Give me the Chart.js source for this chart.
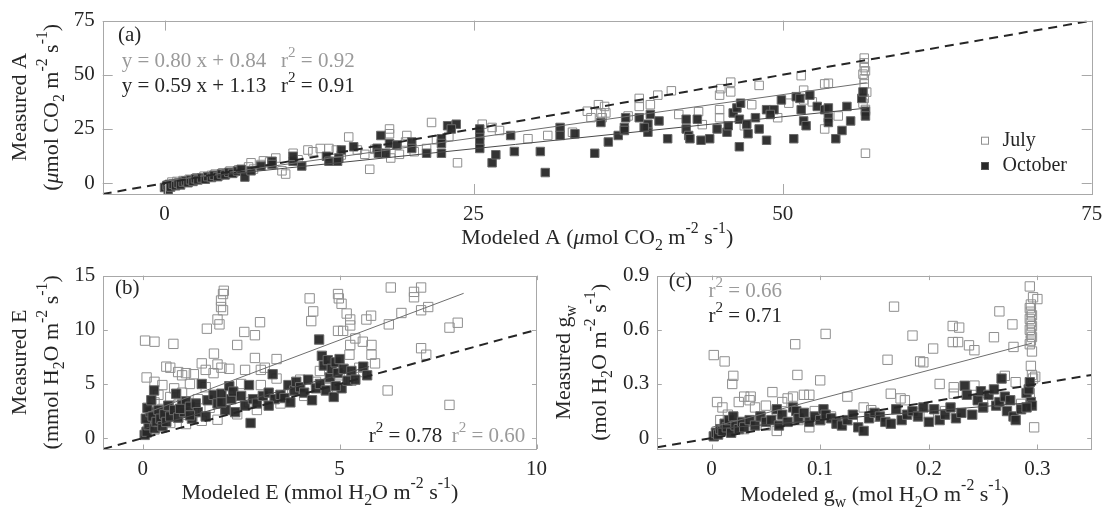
<!DOCTYPE html>
<html>
<head>
<meta charset="utf-8">
<script src="https://cdn.jsdelivr.net/npm/chart.js@4.4.1/dist/chart.umd.min.js"></script>
<style>
    body { margin: 0; background: #fff; width: 1111px; height: 521px; overflow: hidden; position: relative; }
    canvas { position: absolute; }
</style>
</head>
<body>
<canvas id="chartA" width="1111" height="255" style="left:0;top:0"></canvas>
<canvas id="chartB" width="555" height="266" style="left:0;top:255px"></canvas>
<canvas id="chartC" width="556" height="266" style="left:555px;top:255px"></canvas>
<script>
// ---- data ----
const seriesNames = ['July', 'October'];

// (a) net assimilation, modeled vs measured
const julyA = [[0.2,-1.5],[0.4,-0.5],[0.6,0.5],[0.8,-1],[1,0.8],[1.2,0.2],[1.5,1.2],[1.8,0.5],[2,1.8],[2.3,1.2],[2.6,2.5],[3,2],[3.2,3.2],[3.5,2.8],[3.8,3.6],[4.1,4.2],[4.4,3.5],[4.7,4.8],[5,4.4],[5.3,5.6],[5.6,4.9],[6,6.2],[6.3,5.5],[6.8,7.5],[7,9.4],[7.2,6.5],[7.8,8.6],[8,10.3],[8.5,9.8],[9,11.6],[9.5,5.7],[9.8,4.2],[10.4,13.8],[10.8,10.8],[11.6,15.3],[12,14.5],[12.6,16],[13.3,16],[13.9,15.3],[14.3,13],[14.9,21.3],[15.6,15.3],[16.2,13.3],[16.6,6.4],[17,15.6],[18.2,25],[18.2,22.8],[18.3,11.6],[19,13.3],[19.5,19],[19.6,22],[20.2,14.5],[21.2,16],[21.6,28],[22,20],[23,21.5],[23.7,9.4],[25.7,27.2],[26.5,25.7],[27.1,24.3],[29.4,20.5],[31,22],[33,23.5],[34.2,33.2],[34.5,30.2],[35.1,36.2],[35.3,32.4],[35.4,30.2],[35.6,35.4],[35.7,32.4],[37.5,31],[38.4,39.1],[38.4,35.4],[39.3,36.2],[39.9,40.6],[41,42.6],[41.6,31.7],[43.5,27],[43.2,33],[44.9,40.6],[44.9,33.9],[44.9,30.2],[45,43.6],[45.8,46.6],[45.8,42.1],[46.9,26.5],[47.5,36.2],[48.1,45.1],[49.6,30.2],[50.5,36.9],[51.5,49.6],[51.7,42.9],[51.7,38.4],[52.4,37.5],[53.4,45.8],[53.7,46.1],[53.4,25],[54.5,31],[56.6,57.7],[56.6,55.5],[56.6,53.3],[56.7,51.8],[56.5,50.3],[56.6,48.1],[56.6,45.8],[56.6,39.1],[56.5,36.9],[56.7,13.8],[56.8,42],[56.7,34]];
const octA = [[0,-2],[0.2,-1],[0.3,-3],[0.5,-1.8],[0.7,-0.5],[0.9,-1.2],[1.1,0],[1.3,-0.8],[1.5,0.5],[1.7,1],[1.9,0.2],[2.1,1.5],[2.3,0.8],[2.5,2],[2.7,1.5],[3,2.4],[3.3,1.8],[3.5,3],[3.8,2.6],[4,3.6],[4.3,3],[4.6,4.2],[4.9,3.8],[5.2,5],[5.5,4.5],[5.9,5.6],[6.2,6.4],[6.5,2.8],[7,5.7],[7.8,7.9],[8.7,10.1],[8.7,8.6],[10.4,10.1],[10.4,12.4],[11.1,7.9],[13.1,12.4],[13.3,10.1],[14.3,15.3],[14.1,11.6],[14,10.1],[15.3,16.8],[17.2,16.1],[17.3,13.8],[17.9,13.8],[17.5,22],[18.2,18.3],[18.8,17.6],[20,19],[20,16],[21.2,13.8],[22.4,20.5],[22.4,18.3],[22.4,13.8],[22.9,26.5],[23.6,27.2],[23.2,25],[25.5,22],[25.5,19],[25.5,16],[25.5,25],[26.5,9.4],[26.8,13.1],[28,22],[28.3,14.6],[30.4,14.6],[30.8,4.9],[32,25.7],[32,22],[33.2,22.8],[34.8,13.8],[35.3,28],[35.9,19],[36.7,22],[37.2,25.7],[37.3,30.2],[37.2,24.3],[38.4,30.2],[39.1,27.2],[39.1,23.5],[39.3,31.7],[38.8,25.7],[40,28.7],[40.7,20.5],[42.2,29.5],[42.2,25],[42.4,22],[42.5,20.5],[43.1,29.5],[43.4,19.8],[44.1,20.5],[44.7,25],[45.5,23.5],[45.6,26.5],[46,32.4],[46.3,34.7],[46.6,36.9],[46.5,29.5],[46.5,16.8],[47.1,27.2],[47.2,22.8],[47.8,30.2],[48.1,25],[48.7,33.9],[48.7,19.8],[49.3,33.9],[49,31.7],[49.9,38.4],[50.9,20.5],[51.1,39.9],[51.4,39.1],[51.5,33.9],[51.7,28.7],[51.9,26.5],[52.2,40.6],[52.8,35.4],[53.4,33.9],[53.7,34.7],[53.7,30.2],[53.7,28],[54.3,20.5],[54.8,24.3],[55.2,35.4],[55.5,28.7],[56.4,39.1],[56.5,42.1],[56.7,33.2],[56.7,31]];
const fitJulyA = [0.80, 0.84];   // slope, intercept
const fitOctA = [0.59, 1.13];
const fitRangeA = [0, 56.8];
const xTicksA = [0, 25, 50, 75];
const yTicksA = [0, 25, 50, 75];

// (b) transpiration
const julyB = [[0.06,9.0],[0.3,8.9],[0.78,8.7],[1.63,10.1],[1.81,7.8],[1.99,12.7],[1.99,12.1],[2.04,11.8],[1.9,10.95],[1.95,10.5],[2.04,13.3],[2.06,13.6],[2.4,8.6],[2.58,9.8],[2.85,9.5],[2.98,10.7],[2.85,7.4],[3.1,6.5],[3.4,7.3],[4.24,12.9],[4.33,11.7],[4.28,10.8],[4.96,13.3],[4.98,12.9],[5.05,12.4],[5.18,11.5],[5.27,10.95],[5.27,10.4],[5.09,9.9],[4.96,9.9],[5.27,8.6],[5.25,7.7],[5.4,9.2],[5.59,8.9],[5.68,10.95],[5.8,11.3],[5.81,8.6],[5.81,7.7],[6.22,4.4],[6.3,13.9],[6.25,10.5],[6.57,11.55],[6.89,13.5],[6.89,13.0],[7.07,11.8],[7.07,13.9],[7.25,12.1],[7.07,8.3],[7.2,7.7],[7.79,3.07],[7.79,10.2],[8.0,10.65],[1.0,5.8],[1.1,6.0],[0.6,6.6],[0.7,6.5],[0.9,6.1],[1.3,5.9],[1.6,6.3],[1.8,6.0],[2.2,6.4],[2.6,6.3],[3.0,6.3],[1.5,6.9],[1.9,6.8],[2.0,6.5],[0.1,5.6],[0.3,5.2],[0.5,4.9],[0.8,4.6],[1.2,5.0],[0.4,4.0],[0.7,3.8],[0.1,0.5],[0.2,1.2],[0.3,0.8],[0.4,1.8],[0.5,1.0],[0.6,2.2],[0.7,1.4],[0.9,1.9],[1.1,1.3],[1.3,2.4],[1.5,1.6],[1.7,2.8],[1.9,1.7],[2.1,2.6],[2.4,2.2],[2.7,3.3],[2.9,2.6],[3.2,3.8],[3.5,3.2],[3.8,4.4],[4.1,3.9],[4.4,5.2],[4.7,4.6],[5,5.8],[5.3,5.3],[5.6,6.1],[5.9,6.9],[4.0,5.4],[3.0,4.9],[2.2,4.2],[1.4,3.6],[0.9,3.1],[0.5,2.7],[0.3,3.3],[1.0,4.2],[1.6,4.7],[2.5,5.0],[3.4,5.5],[4.5,6.2],[5.5,6.5]];
const octB = [[0.05,0.3],[0.1,0.6],[0.15,1.2],[0.08,1.8],[0.2,2.4],[0.12,2.8],[0.25,2.0],[0.3,0.9],[0.35,1.5],[0.22,3.5],[0.29,4.4],[0.4,2.6],[0.45,1.8],[0.5,1.1],[0.55,2.2],[0.6,1.5],[0.65,3.0],[0.7,2.0],[0.8,2.6],[0.85,4.1],[0.9,1.9],[1.0,3.1],[1.05,2.4],[1.1,3.4],[1.2,2.9],[1.25,1.8],[1.35,3.2],[1.4,2.4],[1.5,5.0],[1.6,2.0],[1.65,3.5],[1.8,4.0],[1.9,3.2],[2.0,4.1],[2.1,2.6],[2.2,4.8],[2.25,3.6],[2.3,4.3],[2.35,2.4],[2.5,3.9],[2.6,3.0],[2.7,4.9],[2.74,1.4],[2.8,3.6],[2.9,3.2],[3.05,3.9],[3.2,4.2],[3.3,5.9],[3.35,3.6],[3.5,4.0],[3.6,3.7],[3.7,4.9],[3.75,3.3],[3.85,4.4],[3.9,5.2],[4.0,4.7],[4.1,4.2],[4.2,5.4],[4.3,3.5],[4.4,4.6],[4.48,9.1],[4.5,5.0],[4.55,7.6],[4.6,6.7],[4.65,4.4],[4.7,7.2],[4.75,5.6],[4.8,6.4],[4.85,3.8],[4.9,7.0],[4.95,6.0],[5.0,7.3],[5.05,4.6],[5.1,6.4],[5.2,5.3],[5.3,6.2],[5.4,5.4],[5.6,6.6],[5.7,5.8],[4.9,4.8],[3.2,3.0],[2.0,3.3],[1.2,2.1],[0.95,2.7]];
const fitJulyB = [1.37, 2.2];
const fitOctB = [1.0, 0.85];
const fitRangeJulyB = [0.05, 8.15];
const fitRangeOctB = [0.05, 5.75];
const xTicksB = [0, 5, 10];
const yTicksB = [0, 5, 10, 15];

// (c) stomatal conductance
const julyC = [[0.002,0.46],[0.012,0.425],[0.02,0.345],[0.019,0.3],[0.005,0.2],[0.01,0.17],[0.015,0.13],[0.008,0.1],[0.02,0.08],[0.025,0.2],[0.03,0.23],[0.035,0.21],[0.04,0.17],[0.045,0.12],[0.036,0.23],[0.05,0.18],[0.056,0.255],[0.06,0.15],[0.065,0.2],[0.07,0.22],[0.075,0.23],[0.077,0.52],[0.079,0.35],[0.085,0.24],[0.09,0.24],[0.09,0.06],[0.095,0.15],[0.1,0.32],[0.105,0.577],[0.11,0.12],[0.12,0.08],[0.125,0.23],[0.13,0.1],[0.14,0.17],[0.147,0.155],[0.162,0.434],[0.165,0.246],[0.168,0.728],[0.174,0.22],[0.178,0.21],[0.185,0.568],[0.19,0.14],[0.192,0.425],[0.195,0.42],[0.204,0.496],[0.21,0.3],[0.215,0.15],[0.222,0.621],[0.228,0.612],[0.222,0.532],[0.227,0.532],[0.223,0.282],[0.223,0.246],[0.237,0.514],[0.242,0.487],[0.242,0.291],[0.25,0.2],[0.26,0.559],[0.265,0.702],[0.27,0.345],[0.277,0.63],[0.278,0.505],[0.28,0.31],[0.293,0.84],[0.296,0.78],[0.294,0.74],[0.293,0.72],[0.294,0.7],[0.295,0.68],[0.293,0.66],[0.294,0.64],[0.295,0.62],[0.293,0.6],[0.294,0.58],[0.295,0.56],[0.294,0.54],[0.293,0.52],[0.295,0.48],[0.294,0.4],[0.295,0.35],[0.296,0.33],[0.293,0.25],[0.297,0.06],[0.3,0.77],[0.298,0.34],[0.03,0.05],[0.05,0.07],[0.06,0.04],[0.08,0.1],[0.1,0.1],[0.15,0.12],[0.2,0.13],[0.25,0.17],[0.285,0.19]];
const octC = [[0.002,0.01],[0.004,0.03],[0.006,0.02],[0.008,0.05],[0.01,0.04],[0.012,0.08],[0.014,0.06],[0.016,0.1],[0.018,0.03],[0.02,0.12],[0.022,0.07],[0.025,0.05],[0.028,0.09],[0.03,0.06],[0.035,0.1],[0.04,0.07],[0.045,0.12],[0.05,0.09],[0.055,0.1],[0.06,0.16],[0.062,0.07],[0.065,0.13],[0.07,0.09],[0.075,0.17],[0.078,0.15],[0.08,0.11],[0.085,0.14],[0.09,0.09],[0.095,0.12],[0.1,0.1],[0.103,0.16],[0.105,0.13],[0.11,0.11],[0.115,0.08],[0.12,0.07],[0.125,0.1],[0.13,0.13],[0.135,0.06],[0.14,0.04],[0.145,0.11],[0.15,0.14],[0.155,0.12],[0.16,0.09],[0.165,0.08],[0.17,0.16],[0.175,0.1],[0.18,0.13],[0.185,0.15],[0.19,0.12],[0.195,0.17],[0.2,0.09],[0.205,0.16],[0.21,0.1],[0.215,0.13],[0.22,0.17],[0.225,0.11],[0.23,0.14],[0.233,0.29],[0.235,0.24],[0.24,0.13],[0.245,0.21],[0.248,0.26],[0.25,0.17],[0.255,0.24],[0.26,0.27],[0.262,0.18],[0.265,0.2],[0.267,0.33],[0.27,0.23],[0.272,0.15],[0.275,0.21],[0.278,0.12],[0.28,0.1],[0.285,0.16],[0.29,0.25],[0.292,0.27],[0.293,0.31],[0.294,0.2],[0.295,0.18],[0.29,0.17]];
const fitJulyC = [1.58, 0.06];
const fitOctC = [0.5, 0.05];
const fitRangeC = [0, 0.295];
const xTicksC = [0, 0.1, 0.2, 0.3];
const yTicksC = [0, 0.3, 0.6, 0.9];

// ---- styling ----
const FONT = '"Liberation Serif", "Times New Roman", serif';
const TEXT = '#262626';
const GRAY_TEXT = '#9a9a9a';
const FRAME = '#a8a8a8';

// text runs: [text, mode] with mode '', 'sub', 'sup', 'it'
function drawRich(ctx, runs, x, y, size, color, align, rotate) {
    const fontFor = r => {
        const small = r[1] === 'sub' || r[1] === 'sup';
        return (r[1] === 'it' ? 'italic ' : '') + (small ? size * 0.72 : size) + 'px ' + FONT;
    };
    ctx.save();
    ctx.translate(x, y);
    if (rotate) ctx.rotate(-Math.PI / 2);
    let w = 0;
    runs.forEach(r => { ctx.font = fontFor(r); w += ctx.measureText(r[0]).width; });
    let cx = align === 'left' ? 0 : -w / 2;
    ctx.fillStyle = color;
    ctx.textBaseline = 'middle';
    ctx.textAlign = 'left';
    runs.forEach(r => {
        ctx.font = fontFor(r);
        const dy = r[1] === 'sub' ? size * 0.36 : (r[1] === 'sup' ? -size * 0.4 : 0);
        ctx.fillText(r[0], cx, dy);
        cx += ctx.measureText(r[0]).width;
    });
    ctx.restore();
}

const unitsCO2 = [['('], ['μ', 'it'], ['mol CO'], ['2', 'sub'], [' m'], ['-2', 'sup'], [' s'], ['-1', 'sup'], [')']];
const unitsH2Ommol = [['(mmol H'], ['2', 'sub'], ['O m'], ['-2', 'sup'], [' s'], ['-1', 'sup'], [')']];
const unitsH2Omol = [['(mol H'], ['2', 'sub'], ['O m'], ['-2', 'sup'], [' s'], ['-1', 'sup'], [')']];

function r2(v) { return [['r'], ['2', 'sup'], [' = ' + v]]; }

function fitLine(coef, range) {
    return range.map(x => ({ x: x, y: coef[0] * x + coef[1] }));
}

function toPts(arr) { return arr.map(p => ({ x: p[0], y: p[1] })); }

function makePanel(id, p) {
    const datasets = [
        {
            type: 'line', data: [{ x: p.x[0], y: p.x[0] }, { x: p.x[1], y: p.x[1] }],
            borderColor: '#262626', borderWidth: 2, borderDash: [9, 6], pointRadius: 0, order: 0
        },
        { type: 'line', data: fitLine(p.fitJuly, p.rangeJuly), borderColor: '#6e6e6e', borderWidth: 1, pointRadius: 0, order: 0 },
        { type: 'line', data: fitLine(p.fitOct, p.rangeOct), borderColor: '#4a4a4a', borderWidth: 1, pointRadius: 0, order: 0 },
        {
            label: seriesNames[1], data: toPts(p.oct), pointStyle: 'rect', pointRadius: p.r,
            backgroundColor: 'rgba(40,40,40,0.95)', borderColor: '#6a6a6a', borderWidth: 1, order: 1
        },
        {
            label: seriesNames[0], data: toPts(p.july), pointStyle: 'rect', pointRadius: p.r,
            backgroundColor: 'rgba(255,255,255,0)', borderColor: '#8f8f8f', borderWidth: 1, order: 2
        }
    ];

    const decor = {
        id: 'decor',
        afterDraw(chart) {
            const ctx = chart.ctx;
            const a = chart.chartArea;
            const sx = chart.scales.x, sy = chart.scales.y;
            ctx.save();
            ctx.strokeStyle = FRAME;
            ctx.lineWidth = 1;
            ctx.strokeRect(Math.round(a.left) + 0.5, Math.round(a.top) + 0.5, Math.round(a.right - a.left), Math.round(a.bottom - a.top));
            ctx.beginPath();
            p.xTicks.forEach(v => {
                const px = Math.round(sx.getPixelForValue(v)) + 0.5;
                ctx.moveTo(px, a.bottom); ctx.lineTo(px, a.bottom - p.tick);
                ctx.moveTo(px, a.top); ctx.lineTo(px, a.top + p.tick);
            });
            p.yTicks.forEach(v => {
                const py = Math.round(sy.getPixelForValue(v)) + 0.5;
                ctx.moveTo(a.left, py); ctx.lineTo(a.left + p.tick, py);
                ctx.moveTo(a.right, py); ctx.lineTo(a.right - p.tick, py);
            });
            ctx.stroke();
            ctx.restore();

            const cxTitle = (a.left + a.right) / 2;
            const cyTitle = (a.top + a.bottom) / 2;
            drawRich(ctx, p.xTitle, cxTitle, p.xTitleY, 22, TEXT, 'center', false);
            drawRich(ctx, p.yTitle1, p.yTitleX[0], cyTitle, 22, TEXT, 'center', true);
            drawRich(ctx, p.yTitle2, p.yTitleX[1], cyTitle, 22, TEXT, 'center', true);
            p.notes.forEach(n => drawRich(ctx, n.runs, n.x, n.y, 21, n.color, 'left', false));

            if (p.legend) {
                const L = p.legend;
                [datasets[4], datasets[3]].forEach((d, i) => {
                    const y = L.y + i * L.dy;
                    ctx.save();
                    ctx.fillStyle = i === 0 ? '#ffffff' : '#2a2a2a';
                    ctx.strokeStyle = i === 0 ? '#8f8f8f' : '#555';
                    ctx.fillRect(L.x - 3.5, y - 3.5, 7, 7);
                    ctx.strokeRect(L.x - 3.5, y - 3.5, 7, 7);
                    ctx.restore();
                    drawRich(ctx, [[d.label]], L.x + 17.5, y, 20, TEXT, 'left', false);
                });
            }
        }
    };

    const tickFont = { family: FONT, size: 21 };
    return new Chart(document.getElementById(id), {
        type: 'scatter',
        data: { datasets: datasets },
        options: {
            responsive: false,
            animation: false,
            devicePixelRatio: 1,
            layout: { padding: { top: p.pad[0], right: p.pad[1], bottom: 0, left: 0 } },
            plugins: { legend: { display: false }, tooltip: { enabled: false } },
            scales: {
                x: {
                    type: 'linear', min: p.x[0], max: p.x[1],
                    afterBuildTicks: s => { s.ticks = p.xTicks.map(v => ({ value: v })); },
                    afterFit: s => { s.height = p.xAxisH; },
                    ticks: { font: tickFont, color: TEXT, padding: 8, maxRotation: 0, autoSkip: false, callback: v => String(v) },
                    grid: { display: false, drawTicks: false },
                    border: { display: false }
                },
                y: {
                    type: 'linear', min: p.y[0], max: p.y[1],
                    afterBuildTicks: s => { s.ticks = p.yTicks.map(v => ({ value: v })); },
                    afterFit: s => { s.width = p.yAxisW; },
                    ticks: { font: tickFont, color: TEXT, padding: 8, autoSkip: false, callback: v => String(v) },
                    grid: { display: false, drawTicks: false },
                    border: { display: false }
                }
            }
        },
        plugins: [decor]
    });
}

makePanel('chartA', {
    july: julyA, oct: octA, fitJuly: fitJulyA, fitOct: fitOctA, rangeJuly: fitRangeA, rangeOct: fitRangeA,
    x: [-5, 75], y: [-5, 75], xTicks: xTicksA, yTicks: yTicksA, r: 6.0, tick: 10,
    pad: [14, 19.3], yAxisW: 102.7, xAxisH: 61,
    xTitle: [['Modeled A ']].concat(unitsCO2), xTitleY: 238,
    yTitle1: [['Measured A']], yTitle2: unitsCO2, yTitleX: [20, 52],
    notes: [
        { runs: [['(a)']], x: 118, y: 35, color: TEXT },
        { runs: [['y = 0.80 x + 0.84']], x: 121.7, y: 61, color: GRAY_TEXT },
        { runs: r2('0.92'), x: 281, y: 61, color: GRAY_TEXT },
        { runs: [['y = 0.59 x + 1.13']], x: 121.7, y: 86, color: TEXT },
        { runs: r2('0.91'), x: 281, y: 86, color: TEXT }
    ],
    legend: { x: 985, y: 140.7, dy: 25.3 }
});

makePanel('chartB', {
    july: julyB, oct: octB, fitJuly: fitJulyB, fitOct: fitOctB, rangeJuly: fitRangeJulyB, rangeOct: fitRangeOctB,
    x: [-1, 10], y: [-1, 15], xTicks: xTicksB, yTicks: yTicksB, r: 6.6, tick: 4.5,
    pad: [14, 17], yAxisW: 103.3, xAxisH: 72,
    xTitle: [['Modeled E ']].concat(unitsH2Ommol), xTitleY: 238,
    yTitle1: [['Measured E']], yTitle2: unitsH2Ommol, yTitleX: [20, 52],
    notes: [
        { runs: [['(b)']], x: 115, y: 33, color: TEXT },
        { runs: r2('0.78'), x: 368.7, y: 181.7, color: TEXT },
        { runs: r2('0.60'), x: 451.7, y: 181.7, color: GRAY_TEXT }
    ]
});

makePanel('chartC', {
    july: julyC, oct: octC, fitJuly: fitJulyC, fitOct: fitOctC, rangeJuly: fitRangeC, rangeOct: fitRangeC,
    x: [-0.05, 0.35], y: [-0.06, 0.9], xTicks: xTicksC, yTicks: yTicksC, r: 6.6, tick: 4.5,
    pad: [14, 19.3], yAxisW: 102.3, xAxisH: 72,
    xTitle: [['Modeled g'], ['w', 'sub'], [' ']].concat(unitsH2Omol), xTitleY: 240,
    yTitle1: [['Measured g'], ['w', 'sub']], yTitle2: unitsH2Omol, yTitleX: [9, 45],
    notes: [
        { runs: [['(c)']], x: 113.8, y: 26, color: TEXT },
        { runs: r2('0.66'), x: 153.4, y: 36.7, color: GRAY_TEXT },
        { runs: r2('0.71'), x: 153.4, y: 61.7, color: TEXT }
    ]
});
</script>
</body>
</html>
